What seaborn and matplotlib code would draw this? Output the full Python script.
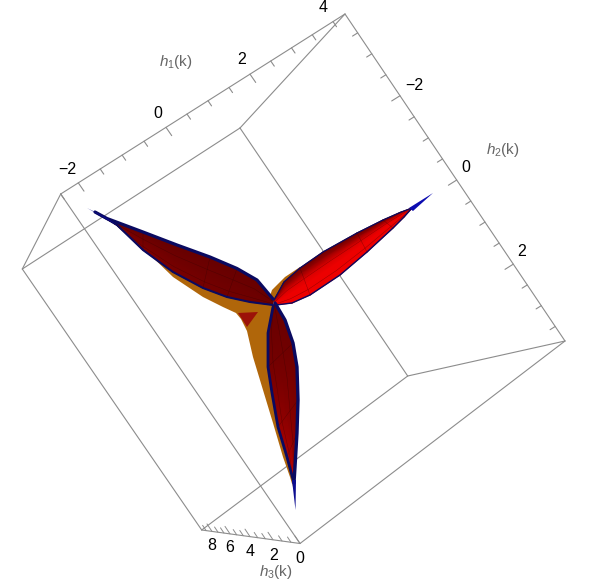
import numpy as np
import matplotlib
matplotlib.use("Agg")
import matplotlib.pyplot as plt
import seaborn as sns

sns.set_theme(style="white")
plt.rcParams['font.family'] = ['Liberation Sans', 'DejaVu Sans']
plt.rcParams['mathtext.fontset'] = 'custom'
plt.rcParams['mathtext.rm'] = 'Liberation Sans'
plt.rcParams['mathtext.it'] = 'Liberation Sans:italic'

# tick values on the three axes
h1_major = [-2, 0, 2]
h1_minor = [-2.5, -1.5, -1, -0.5, 0.5, 1, 1.5, 2.5, 3, 3.5, 4]
h1_labels = ["\u22122", "0", "2", "4"]
h2_major = [-2, 0, 2]
h2_minor = [-3.5, -3, -2.5, -1.5, -1, -0.5, 0.5, 1, 1.5, 2.5, 3, 3.5]
h2_labels = ["\u22122", "0", "2"]
h3_major = [0, 2, 4, 6, 8]
h3_minor = [0.67, 1.33, 2.67, 3.33, 4.67, 5.33, 6.67, 7.33, 8.4]
h3_labels = ["8", "6", "4", "2", "0"]

# the surface as it reads off the picture (x right, y down)
lobe1_top_x = [95, 107, 143, 177, 210, 237, 257, 273]
lobe1_top_y = [212, 218.5, 232, 245, 257, 268.5, 280, 299]
lobe1_low_x = [95, 117, 143, 173, 203, 227, 250, 273]
lobe1_low_y = [212, 225, 250, 272, 288, 297, 302, 305]

lobe2_top_x = [274, 284, 300, 323, 357, 383, 400, 412]
lobe2_top_y = [300, 282, 268, 252, 233, 220, 212.5, 208]
lobe2_low_x = [276, 292, 310, 340, 367, 393, 404, 412]
lobe2_low_y = [305, 303, 295, 275, 252, 228, 217, 208]

lobe3_right_x = [275, 285, 293, 297, 298, 297, 295, 294]
lobe3_right_y = [303, 320, 343, 367, 400, 433, 467, 483]
lobe3_left_x = [273, 268, 268, 272, 278, 287, 291, 294]
lobe3_left_y = [307, 333, 367, 393, 427, 457, 472, 483]

under_x = [117, 143, 173, 203, 227, 250, 273, 272, 293, 290, 283, 273, 263, 253, 247, 241, 236, 223, 203, 173, 140]
under_y = [225, 250, 272, 288, 297, 302, 300, 300, 487, 477, 457, 423, 390, 357, 331, 319, 313, 307, 297, 277, 245]
crotch_x = [238, 258, 247]
crotch_y = [313, 312, 327]
sliver_x = [268, 272, 285, 300, 285, 275]
sliver_y = [302, 290, 277, 267, 285, 302]

tip1_x = [87, 107, 117]
tip1_y = [208, 218, 225]
tip2_x = [433, 409, 413]
tip2_y = [193, 208, 211]
tip3_x = [295.5, 292, 296]
tip3_y = [510, 480, 480]

# box corners
corners = {
    "A": (345, 14), "B": (565, 341), "C": (300, 543.5), "D": (201.7, 530),
    "E": (22.3, 269), "F": (60.7, 194), "G": (240, 128), "H": (407.7, 376),
}
edges = ["FA", "AB", "BC", "CD", "DE", "EF", "FC", "EG", "GA", "GH", "HB", "HD"]

GREY = "#8c8c8c"
NAVY = "#0a0a60"
ORANGE = "#b0660a"

fig, ax = plt.subplots(figsize=(5.89, 5.87), dpi=100)
ax.set_position([0, 0, 1, 1])


def line(xs, ys, color=GREY, lw=0.8, alpha=1.0, z=1):
    sns.lineplot(x=xs, y=ys, sort=False, estimator=None, color=color, linewidth=lw,
                 alpha=alpha, zorder=z, ax=ax)


for e in edges:
    p, q = corners[e[0]], corners[e[1]]
    line([p[0], q[0]], [p[1], q[1]])


# tick positions along the axes, a bit of perspective so not linear
def h1_pos(v):
    x = np.interp(v, [-2.4, -2, 0, 2, 4, 4.27], [60.7, 78.3, 166, 250, 333, 345])
    y = 194 + (x - 60.7) * (14 - 194) / (345 - 60.7)
    return x, y


def h2_pos(v):
    x = np.interp(v, [-3.95, -2, 0, 2, 3.85], [345, 400, 456.7, 513.3, 565])
    y = 14 + (x - 345) * (341 - 14) / (565 - 345)
    return x, y


def h3_pos(v):
    x = np.interp(v, [0, 2, 4, 6, 8, 8.7], [300, 273, 250, 230, 212, 201.7])
    y = 530 + (x - 201.7) * (543.5 - 530) / (300 - 201.7)
    return x, y


for v in h1_major + h1_minor:
    x, y = h1_pos(v)
    k = 1.0 if v in h1_major else 0.62
    line([x, x + 5.7 * k], [y, y + 8.3 * k])
for v in h2_major + h2_minor:
    x, y = h2_pos(v)
    k = 1.0 if v in h2_major else 0.62
    line([x, x - 8.3 * k], [y, y + 5.2 * k])
for v in h3_major + h3_minor:
    x, y = h3_pos(v)
    k = 1.0 if v in h3_major else 0.7
    line([x, x - 5 * k], [y, y - 7.5 * k], lw=0.7)


def lobe(x0, y0, x1, y1, shade, cmap, z):
    v = np.linspace(0, 1, 6)
    X = np.outer(1 - v, x0) + np.outer(v, x1)
    Y = np.outer(1 - v, y0) + np.outer(v, y1)
    ax.pcolormesh(X, Y, shade(v, np.linspace(0, 1, len(x0))), cmap=cmap, vmin=0, vmax=1,
                  shading="gouraud", zorder=z, rasterized=True)
    for i in [2, 4]:
        line(X[i], Y[i], color="#300000", lw=0.35, alpha=0.45, z=z + 0.1)
    for j in [2, 4, 5]:
        line(X[:, j], Y[:, j], color="#300000", lw=0.35, alpha=0.45, z=z + 0.1)


reds = sns.blend_palette(["#5c0000", "#7a0000", "#b00000", "#ec0000"], as_cmap=True)

ax.fill(under_x, under_y, color=ORANGE, lw=0, zorder=2)
ax.fill(sliver_x, sliver_y, color=ORANGE, lw=0, zorder=2)
ax.fill(crotch_x, crotch_y, color="#9c1208", lw=0, zorder=2.1)

lobe(lobe2_top_x, lobe2_top_y, lobe2_low_x, lobe2_low_y,
     lambda v, u: np.outer(0.15 + 0.85 * np.minimum(v * 2.2, 1), np.ones_like(u)), reds, 3)
lobe(lobe1_top_x, lobe1_top_y, lobe1_low_x, lobe1_low_y,
     lambda v, u: np.outer(0.12 + 0.1 * v, np.ones_like(u)) + np.outer(v, 0.35 * (1 - u) ** 2), reds, 4)
lobe(lobe3_right_x, lobe3_right_y, lobe3_left_x, lobe3_left_y,
     lambda v, u: 0.15 + np.outer(0.35 + 0.5 * v, u ** 1.5), reds, 5)

# navy outlines
line(lobe1_top_x, lobe1_top_y, color=NAVY, lw=2.3, z=6)
line(lobe1_low_x, lobe1_low_y, color=NAVY, lw=1.5, z=6)
line(lobe2_top_x, lobe2_top_y, color=NAVY, lw=0.9, z=6)
line(lobe2_low_x, lobe2_low_y, color=NAVY, lw=1.0, z=6)
line(lobe3_right_x, lobe3_right_y, color=NAVY, lw=2.4, z=6)
line(lobe3_left_x, lobe3_left_y, color=NAVY, lw=2.0, z=6)

ax.fill(tip1_x, tip1_y, color="#0c0c90", lw=0, zorder=6)
ax.fill(tip2_x, tip2_y, color="#0c0cb0", lw=0, zorder=6)
ax.fill(tip3_x, tip3_y, color="#0c0c90", lw=0, zorder=6)

# tick labels and axis names
for s, (lx, ly) in zip(h1_labels, [(67, 170), (158, 113), (242, 60), (323, 8)]):
    ax.text(lx, ly, s, fontsize=11.5, color="black", ha="center", va="center")
for s, (lx, ly) in zip(h2_labels, [(414, 85), (466, 168), (522, 252)]):
    ax.text(lx, ly, s, fontsize=11.5, color="black", ha="center", va="center")
for s, (lx, ly) in zip(h3_labels, [(211.5, 545), (230, 548), (250, 551), (273.5, 555), (300, 558.5)]):
    ax.text(lx, ly, s, fontsize=11.5, color="black", ha="center", va="center")
ax.text(176, 62, r"$h_1$(k)", fontsize=11, color="#666666", ha="center", va="center")
ax.text(503, 150, r"$h_2$(k)", fontsize=11, color="#666666", ha="center", va="center")
ax.text(276, 572, r"$h_3$(k)", fontsize=11, color="#666666", ha="center", va="center")

ax.set_xlim(0, 589)
ax.set_ylim(587, 0)
ax.axis("off")

fig.savefig("out.png", dpi=100)
